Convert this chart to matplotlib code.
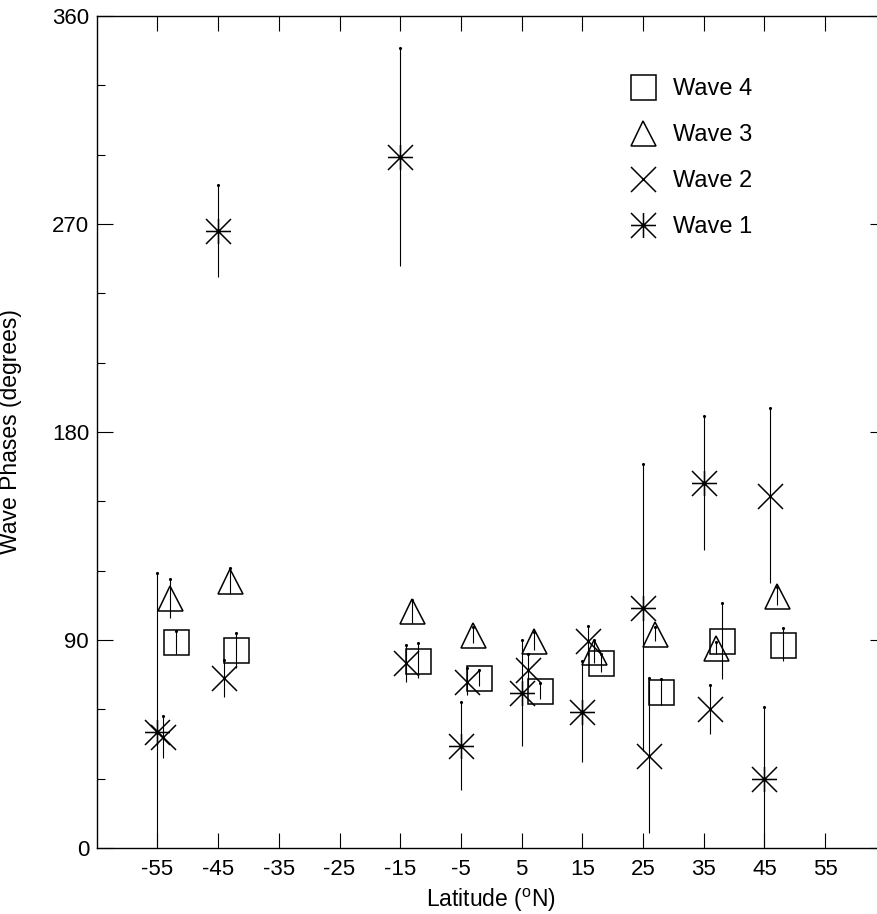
import numpy as np
import matplotlib
matplotlib.use("Agg")
import matplotlib.pyplot as plt
from matplotlib.path import Path
from matplotlib.ticker import MultipleLocator

plt.rcParams["font.family"] = ["Liberation Sans", "DejaVu Sans"]
plt.rcParams["mathtext.fontset"] = "custom"
plt.rcParams["mathtext.rm"] = "Liberation Sans"

# Latitude bins (deg N); each wave is shifted slightly so the symbols don't overlap
lat = np.array([-55, -45, -15, -5, 5, 15, 25, 35, 45])
offsets = {"Wave 1": 0, "Wave 2": 1, "Wave 3": 2, "Wave 4": 3}

# Phases and 1-sigma errors (degrees)
wave1_phase = [50, 267, 299, 44, 67, 59, 104, 158, 30]
wave1_err = [69, 20, 47, 19, 23, 22, 62, 29, 31]

wave2_phase = [48, 73.5, 80, 72, 77, 89.5, 40, 60, 152.5]
wave2_err = [9, 8, 8, 6, 7, 6.5, 33.5, 10.5, 38]

wave3_phase = [108, 115.5, 102.5, 92, 89.5, 85, 92.5, 86.5, 109]
wave3_err = [8.5, 5.5, 5, 3.5, 4, 5, 3, 2.5, 4]

wave4_phase = [89, 85.5, 81, 73.5, 68, 80, 67.5, 89.5, 88]
wave4_err = [5, 7.5, 7.5, 3.5, 3.5, 4, 5.5, 16.5, 7]

xticks = [-55, -45, -35, -25, -15, -5, 5, 15, 25, 35, 45, 55]
yticks = [0, 90, 180, 270, 360]

# IDL-style asterisk: horizontal, vertical and both diagonals
asterisk = Path(
    [(-1, 0), (1, 0), (0, -1), (0, 1), (-1, -1), (1, 1), (-1, 1), (1, -1)],
    [Path.MOVETO, Path.LINETO] * 4,
)

series = [
    ("Wave 4", wave4_phase, wave4_err, "s"),
    ("Wave 3", wave3_phase, wave3_err, "^"),
    ("Wave 2", wave2_phase, wave2_err, "x"),
    ("Wave 1", wave1_phase, wave1_err, asterisk),
]

fig = plt.figure(figsize=(8.77, 9.14), dpi=100)
ax = fig.add_axes([0.1103, 0.0722, 0.8997, 0.9103])

handles = []
for name, phase, err, marker in series:
    x = lat + offsets[name]
    phase = np.array(phase, dtype=float)
    err = np.array(err, dtype=float)
    ax.errorbar(x, phase, yerr=err, fmt="none", ecolor="black",
                elinewidth=0.8, capsize=0)
    # small dot at the upper end of each bar
    ax.plot(x, phase + err, ".", color="black", ms=2.5)
    h, = ax.plot(x, phase, linestyle="none", marker=marker, ms=18,
                 mfc="none", mec="black", mew=1.1, label=name)
    handles.append(h)

ax.set_xlim(-65, 65)
ax.set_ylim(0, 360)
ax.set_xticks(xticks)
ax.set_xticklabels([str(v) for v in xticks])
ax.set_yticks(yticks)
ax.set_yticklabels([str(v) for v in yticks])
ax.yaxis.set_minor_locator(MultipleLocator(30))

ax.tick_params(axis="x", which="major", direction="in", length=11, width=0.8,
               top=True, labelsize=16, pad=8)
ax.tick_params(axis="y", which="major", direction="in", length=11.5, width=0.8,
               right=True, labelsize=16, pad=5.5)
ax.tick_params(axis="y", which="minor", direction="in", length=5.8, width=0.8,
               right=True)
for sp in ax.spines.values():
    sp.set_linewidth(1.0)

ax.set_xlabel(r"Latitude ($^{\rm o}$N)", fontsize=16.5)
ax.set_ylabel("Wave Phases (degrees)", fontsize=16.5)
ax.xaxis.set_label_coords(0.5, -0.047)
ax.yaxis.set_label_coords(-0.095, 0.5)

ax.legend(handles=handles, loc="upper left", frameon=False, fontsize=17,
          bbox_to_anchor=(629 / 877, 1 - 78 / 914),
          bbox_transform=fig.transFigure, borderpad=0, borderaxespad=0,
          handlelength=1.15, handletextpad=0.7, labelspacing=1.02,
          numpoints=1)

fig.savefig("out.png", dpi=100)
